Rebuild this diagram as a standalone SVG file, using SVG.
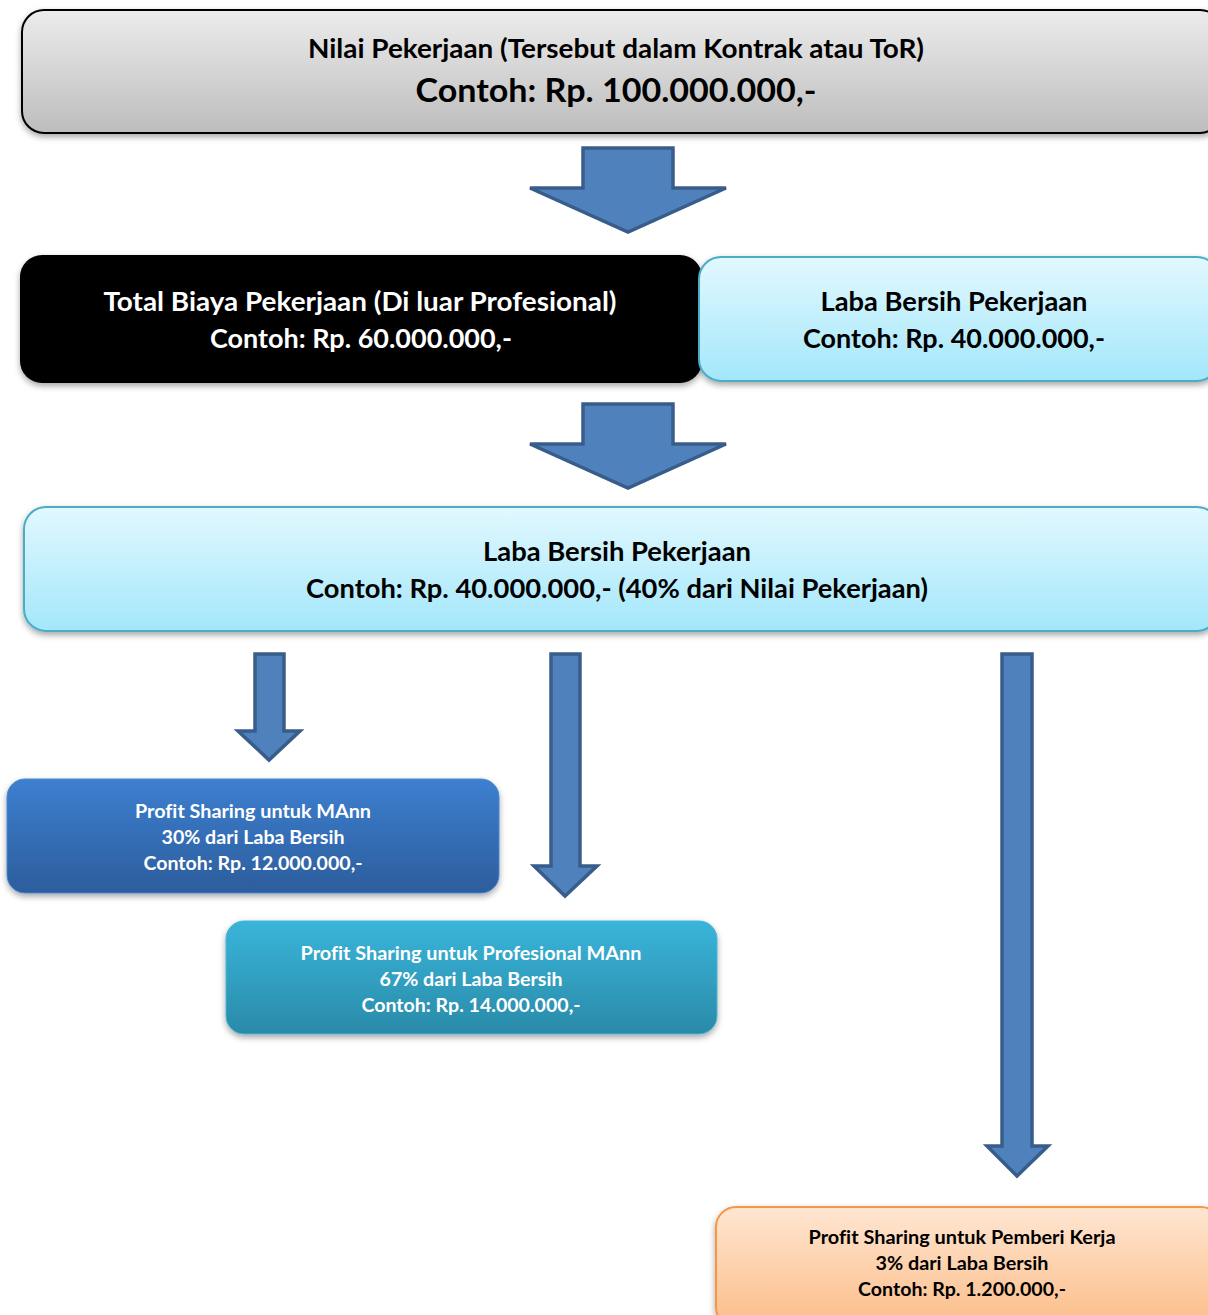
<svg xmlns="http://www.w3.org/2000/svg" width="1208" height="1315" viewBox="0 0 1208 1315">
<defs>
<linearGradient id="gGray" x1="0" y1="0" x2="0" y2="1"><stop offset="0" stop-color="#ececec"/><stop offset="1" stop-color="#bdbdbd"/></linearGradient>
<linearGradient id="gLight" x1="0" y1="0" x2="0" y2="1"><stop offset="0" stop-color="#e2f8fe"/><stop offset="1" stop-color="#a3e7fb"/></linearGradient>
<linearGradient id="gBlue" x1="0" y1="0" x2="0" y2="1"><stop offset="0" stop-color="#3d7fd0"/><stop offset="1" stop-color="#2c5d9c"/></linearGradient>
<linearGradient id="gTeal" x1="0" y1="0" x2="0" y2="1"><stop offset="0" stop-color="#39b5da"/><stop offset="1" stop-color="#2a8aa8"/></linearGradient>
<linearGradient id="gOrange" x1="0" y1="0" x2="0" y2="1"><stop offset="0" stop-color="#ffe6d2"/><stop offset="1" stop-color="#fcbd88"/></linearGradient>
<filter id="sh" x="-5%" y="-10%" width="110%" height="130%"><feDropShadow dx="0" dy="3" stdDeviation="3" flood-color="#000" flood-opacity="0.35"/></filter>
</defs>
<style>
text{font-family:Lato,"Open Sans","Liberation Sans",sans-serif;font-weight:bold;text-anchor:middle;font-variant-ligatures:none}
.arrow{fill:#4f81bd;stroke:#385d8a;stroke-width:3.5;stroke-linejoin:miter}
.dk{fill:#000}
.wh{fill:#fff}
</style>
<g id="connectors">
<polygon class="arrow" points="583,148 673,148 673,188 726,188 628,232 530,188 583,188"/>
<polygon class="arrow" points="583,404 673,404 673,444 726,444 628,488 530,444 583,444"/>
<polygon class="arrow" points="255,654 284,654 284,731 300,731 269,760 238,731 255,731"/>
<polygon class="arrow" points="551,654 580,654 580,866 597,866 565,896 534,866 551,866"/>
<polygon class="arrow" points="1002,654 1032,654 1032,1146 1048,1146 1017,1176 987,1146 1002,1146"/>
</g>
<g id="node-nilai">
<rect x="22" y="10" width="1200" height="123" rx="22" fill="url(#gGray)" stroke="#000" stroke-width="2" filter="url(#sh)"/>
<text x="616" y="58" font-size="26" class="dk" textLength="616" lengthAdjust="spacingAndGlyphs">Nilai Pekerjaan (Tersebut dalam Kontrak atau ToR)</text>
<text x="616" y="102" font-size="32" class="dk" textLength="401" lengthAdjust="spacingAndGlyphs">Contoh: Rp. 100.000.000,-</text>
</g>
<g id="node-biaya">
<rect x="20" y="255" width="682" height="128" rx="22" fill="#000" filter="url(#sh)"/>
<text x="360" y="311" font-size="26" class="wh" textLength="513" lengthAdjust="spacingAndGlyphs">Total Biaya Pekerjaan (Di luar Profesional)</text>
<text x="361" y="348" font-size="26" class="wh" textLength="302" lengthAdjust="spacingAndGlyphs">Contoh: Rp. 60.000.000,-</text>
</g>
<g id="node-laba1">
<rect x="699" y="257" width="520" height="124" rx="22" fill="url(#gLight)" stroke="#4bacc6" stroke-width="2" filter="url(#sh)"/>
<text x="954" y="311" font-size="26" class="dk" textLength="267" lengthAdjust="spacingAndGlyphs">Laba Bersih Pekerjaan</text>
<text x="954" y="348" font-size="26" class="dk" textLength="302" lengthAdjust="spacingAndGlyphs">Contoh: Rp. 40.000.000,-</text>
</g>
<g id="node-laba2">
<rect x="24" y="507" width="1195" height="124" rx="22" fill="url(#gLight)" stroke="#4bacc6" stroke-width="2" filter="url(#sh)"/>
<text x="617" y="561" font-size="26" class="dk" textLength="268" lengthAdjust="spacingAndGlyphs">Laba Bersih Pekerjaan</text>
<text x="617" y="598" font-size="26" class="dk" textLength="622" lengthAdjust="spacingAndGlyphs">Contoh: Rp. 40.000.000,- (40% dari Nilai Pekerjaan)</text>
</g>
<g id="node-mann">
<rect x="7" y="779" width="492" height="114" rx="18" fill="url(#gBlue)" stroke="#4a86cf" stroke-width="1" filter="url(#sh)"/>
<text x="253" y="818" font-size="18.5" class="wh" textLength="236" lengthAdjust="spacingAndGlyphs">Profit Sharing untuk MAnn</text>
<text x="253" y="844" font-size="18.5" class="wh" textLength="183" lengthAdjust="spacingAndGlyphs">30% dari Laba Bersih</text>
<text x="253" y="870" font-size="18.5" class="wh" textLength="219" lengthAdjust="spacingAndGlyphs">Contoh: Rp. 12.000.000,-</text>
</g>
<g id="node-profesional">
<rect x="226" y="921" width="491" height="113" rx="18" fill="url(#gTeal)" stroke="#4bb3d6" stroke-width="1" filter="url(#sh)"/>
<text x="471" y="960" font-size="18.5" class="wh" textLength="341" lengthAdjust="spacingAndGlyphs">Profit Sharing untuk Profesional MAnn</text>
<text x="471" y="986" font-size="18.5" class="wh" textLength="183" lengthAdjust="spacingAndGlyphs">67% dari Laba Bersih</text>
<text x="471" y="1012" font-size="18.5" class="wh" textLength="219" lengthAdjust="spacingAndGlyphs">Contoh: Rp. 14.000.000,-</text>
</g>
<g id="node-pemberi">
<rect x="716" y="1207" width="505" height="120" rx="20" fill="url(#gOrange)" stroke="#f79646" stroke-width="2" filter="url(#sh)"/>
<text x="962" y="1244" font-size="18.5" class="dk" textLength="307" lengthAdjust="spacingAndGlyphs">Profit Sharing untuk Pemberi Kerja</text>
<text x="962" y="1270" font-size="18.5" class="dk" textLength="173" lengthAdjust="spacingAndGlyphs">3% dari Laba Bersih</text>
<text x="962" y="1296" font-size="18.5" class="dk" textLength="208" lengthAdjust="spacingAndGlyphs">Contoh: Rp. 1.200.000,-</text>
</g>
</svg>
